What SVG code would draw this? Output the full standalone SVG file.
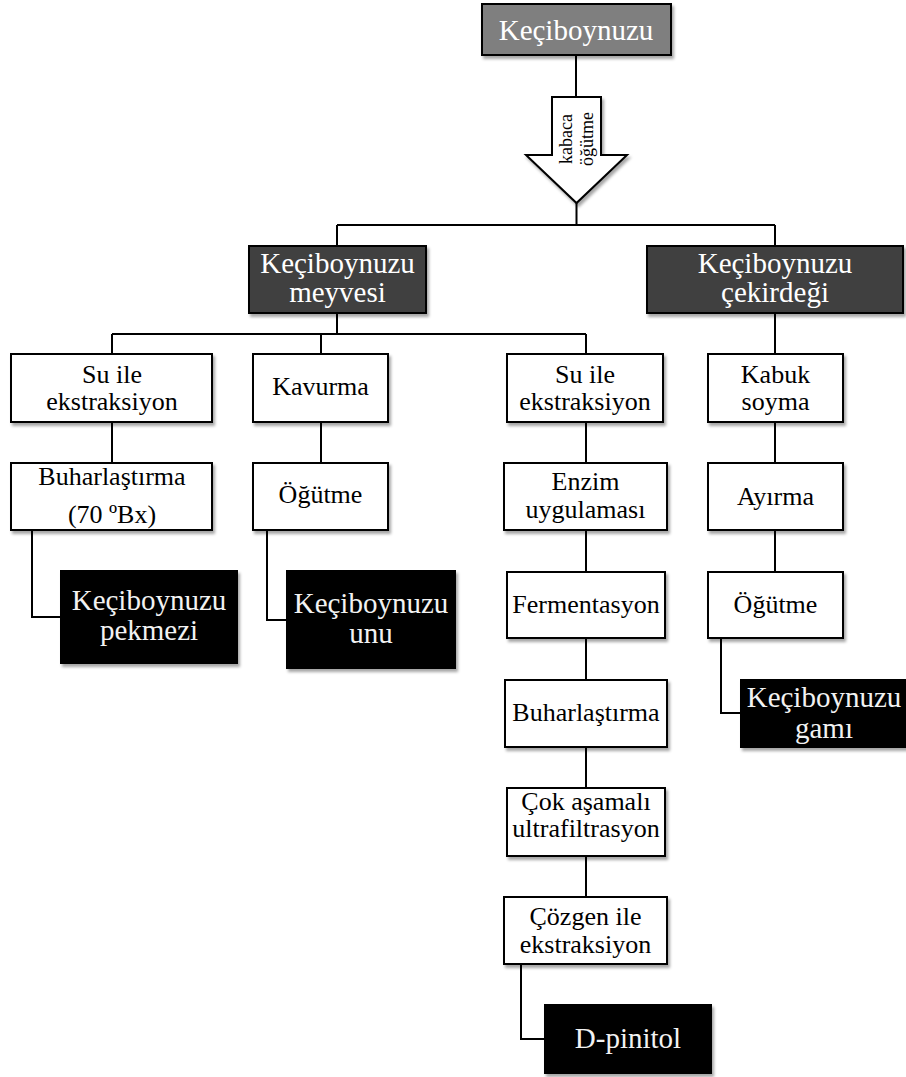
<svg xmlns="http://www.w3.org/2000/svg" width="906" height="1077" viewBox="0 0 906 1077">
<defs>
<filter id="sh" x="-10%" y="-10%" width="130%" height="140%">
<feDropShadow dx="2" dy="3" stdDeviation="1.5" flood-color="#000" flood-opacity="0.35"/>
</filter>
<style>
rect{stroke:#000;stroke-width:2;filter:url(#sh)}
.g{fill:#7f7f7f}
.d{fill:#404040}
.b{fill:#000}
.w{fill:#fff}
text{text-anchor:middle}
.tw{font-size:26px;fill:#000}
.tl{font-size:29px;fill:#f2f2f2}
.c{fill:none;stroke:#000;stroke-width:2}
</style>
</defs>
<rect width="906" height="1077" fill="#fff" style="stroke:none;filter:none"/>
<g id="connectors">
<path class="c" d="M576 55V97M576.5 203V225M337 225H775M337 225V246M775 225V246M337 313V334M112 334H586M112 334V354M321 334V354M586 334V354M775 313V354M112 422V463M321 422V463M32 530V617H61M267 530V620H287M586 422V463M586 530V572M586 638V680M586 747V788M586 856V897M775 422V463M775 530V572M721 638V713H741M521 964V1039H545"/>
</g>
<g font-family="'Liberation Serif', 'Times New Roman', 'DejaVu Serif', serif">
<g id="arrow">
<polygon points="552,97 601,97 601,155 627,155 576.5,203 526,155 552,155" fill="#fff" stroke="#000" stroke-width="2" filter="url(#sh)"/>
<text transform="translate(576,139) rotate(-90)" style="font-size:18px;fill:#000"><tspan x="0" y="-4">kabaca</tspan><tspan x="0" y="17">öğütme</tspan></text>
</g>
<g id="n-top"><rect class="g" x="482" y="4" width="189" height="51"/><text class="tl" x="576" y="40" style="fill:#fff">Keçiboynuzu</text></g>
<g id="n-meyve"><rect class="d" x="249" y="246" width="177" height="67"/><text class="tl" x="337.5" y="273" style="fill:#fff">Keçiboynuzu</text><text class="tl" x="337.5" y="302" style="fill:#fff">meyvesi</text></g>
<g id="n-cekirdek"><rect class="d" x="647" y="246" width="256" height="67"/><text class="tl" x="775" y="273" style="fill:#fff">Keçiboynuzu</text><text class="tl" x="775" y="302" style="fill:#fff">çekirdeği</text></g>
<g id="n-su1"><rect class="w" x="11" y="354" width="201" height="68"/><text class="tw" x="112" y="383">Su ile</text><text class="tw" x="112" y="410">ekstraksiyon</text></g>
<g id="n-kavurma"><rect class="w" x="253" y="354" width="135" height="68"/><text class="tw" x="320.5" y="395">Kavurma</text></g>
<g id="n-buhar1"><rect class="w" x="11" y="463" width="201" height="67"/><text class="tw" x="112" y="485">Buharlaştırma</text><text class="tw" x="112" y="523">(70 ºBx)</text></g>
<g id="n-ogutme1"><rect class="w" x="253" y="463" width="135" height="67"/><text class="tw" x="320.5" y="503">Öğütme</text></g>
<g id="n-pekmez"><rect class="b" x="61" y="571" width="176" height="92"/><text class="tl" x="149" y="610">Keçiboynuzu</text><text class="tl" x="149" y="640">pekmezi</text></g>
<g id="n-unu"><rect class="b" x="287" y="571" width="168" height="97"/><text class="tl" x="371" y="613">Keçiboynuzu</text><text class="tl" x="371" y="643">unu</text></g>
<g id="n-su2"><rect class="w" x="507" y="354" width="156" height="68"/><text class="tw" x="585" y="383">Su ile</text><text class="tw" x="585" y="410">ekstraksiyon</text></g>
<g id="n-kabuk"><rect class="w" x="708" y="354" width="135" height="68"/><text class="tw" x="775.5" y="383">Kabuk</text><text class="tw" x="775.5" y="410">soyma</text></g>
<g id="n-enzim"><rect class="w" x="504" y="463" width="163" height="67"/><text class="tw" x="585.5" y="490">Enzim</text><text class="tw" x="585.5" y="518">uygulaması</text></g>
<g id="n-ayirma"><rect class="w" x="708" y="463" width="135" height="67"/><text class="tw" x="775.5" y="505">Ayırma</text></g>
<g id="n-ferment"><rect class="w" x="507" y="572" width="158" height="66"/><text class="tw" x="586" y="613">Fermentasyon</text></g>
<g id="n-ogutme2"><rect class="w" x="708" y="572" width="135" height="66"/><text class="tw" x="775.5" y="613">Öğütme</text></g>
<g id="n-buhar2"><rect class="w" x="505" y="680" width="162" height="67"/><text class="tw" x="586" y="721">Buharlaştırma</text></g>
<g id="n-gam"><rect class="b" x="741" y="680" width="170" height="67"/><text class="tl" x="824" y="707">Keçiboynuzu</text><text class="tl" x="824" y="738">gamı</text></g>
<g id="n-cok"><rect class="w" x="507" y="788" width="158" height="68"/><text class="tw" x="586" y="810">Çok aşamalı</text><text class="tw" x="586" y="837">ultrafiltrasyon</text></g>
<g id="n-cozgen"><rect class="w" x="504" y="897" width="163" height="67"/><text class="tw" x="585.5" y="925">Çözgen ile</text><text class="tw" x="585.5" y="953">ekstraksiyon</text></g>
<g id="n-pinitol"><rect class="b" x="545" y="1005" width="166" height="68"/><text class="tl" x="628" y="1048">D-pinitol</text></g>
</g>
</svg>
